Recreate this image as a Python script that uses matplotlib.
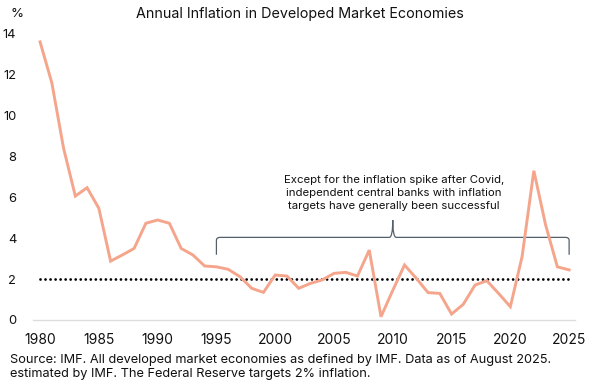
import numpy as np
import matplotlib.pyplot as plt
from matplotlib.path import Path
from matplotlib.patches import PathPatch

#-------------------------------------------------
#Data
#-------------------------------------------------
years = list(range(1980, 2026))
inflation = [13.6, 11.6, 8.4, 6.06, 6.47, 5.46, 2.88, 3.18, 3.5, 4.73,
             4.89, 4.73, 3.5, 3.18, 2.64, 2.6, 2.48, 2.12, 1.55, 1.35,
             2.2, 2.15, 1.55, 1.79, 1.96, 2.28, 2.33, 2.15, 3.42, 0.16,
             1.45, 2.69, 2.04, 1.34, 1.3, 0.29, 0.77, 1.71, 1.92, 1.3,
             0.65, 3.1, 7.3, 4.65, 2.6, 2.45]

target_years = [1980, 2025]
target_rate = [2, 2]

x_ticks = [1980, 1985, 1990, 1995, 2000, 2005, 2010, 2015, 2020, 2025]
y_ticks = [0, 2, 4, 6, 8, 10, 12, 14]

bracket_start = 1995
bracket_mid = 2010
bracket_end = 2025
bracket_y = 4.04

title = "Annual Inflation in Developed Market Economies"
note = ("Except for the inflation spike after Covid,\n"
        "independent central banks with inflation\n"
        "targets have generally been successful")
source = ("Source: IMF. All developed market economies as defined by IMF. Data as of August 2025.\n"
          "estimated by IMF. The Federal Reserve targets 2% inflation.")

plt.rcParams['font.family'] = ['Inter', 'DejaVu Sans']

#-------------------------------------------------
#Figure and axes
#-------------------------------------------------
fig = plt.figure(figsize=(6, 3.87), dpi=100)
ax = fig.add_axes([33/600, 67/387, 542/600, 286.3/387])

ax.plot(years, inflation, color='#F5A58B', linewidth=2.1, solid_joinstyle='miter', zorder=3)
ax.plot(target_years, target_rate, color='black', linewidth=2.0,
        dashes=(0.01, 1.8), dash_capstyle='round', zorder=2)

ax.set_xlim(1979.4, 2025.5)
ax.set_ylim(0, 14)
ax.set_xticks(x_ticks)
ax.set_yticks(y_ticks)
ax.tick_params(length=0, colors='#111111')
ax.tick_params(axis='y', pad=12, labelsize=9.3)
ax.tick_params(axis='x', pad=9, labelsize=10)

for side in ['top', 'right', 'left']:
    ax.spines[side].set_visible(False)
ax.spines['bottom'].set_color('#dddddd')
ax.spines['bottom'].set_linewidth(1.0)

#-------------------------------------------------
#Curly bracket and note
#-------------------------------------------------
r = 0.3
d = 0.15
verts = [
    (bracket_start, bracket_y - 0.85),
    (bracket_start, bracket_y - d),
    (bracket_start, bracket_y), (bracket_start + r, bracket_y),
    (bracket_mid - r, bracket_y),
    (bracket_mid, bracket_y), (bracket_mid, bracket_y + 0.85),
    (bracket_mid, bracket_y), (bracket_mid + r, bracket_y),
    (bracket_end - r, bracket_y),
    (bracket_end, bracket_y), (bracket_end, bracket_y - d),
    (bracket_end, bracket_y - 0.85),
]
codes = [Path.MOVETO, Path.LINETO,
         Path.CURVE3, Path.CURVE3,
         Path.LINETO,
         Path.CURVE3, Path.CURVE3,
         Path.CURVE3, Path.CURVE3,
         Path.LINETO,
         Path.CURVE3, Path.CURVE3,
         Path.LINETO]
ax.add_patch(PathPatch(Path(verts, codes), facecolor='none',
                       edgecolor='#56606a', linewidth=0.9, zorder=2))

ax.text(bracket_mid + 0.1, 6.22, note, ha='center', va='center', fontsize=8.2,
        linespacing=1.4, color='#111111')

#-------------------------------------------------
#Titles and source
#-------------------------------------------------
fig.text(0.5, 1 - 14/387, title, ha='center', va='center', fontsize=10.3, color='#111111')
fig.text(17/600, 1 - 14/387, '%', ha='center', va='center', fontsize=9.5, color='#111111')
fig.text(10/600, 1 - 367/387, source, ha='left', va='center', fontsize=9.2,
         linespacing=1.25, color='#111111')

fig.savefig('out.png', dpi=100)
